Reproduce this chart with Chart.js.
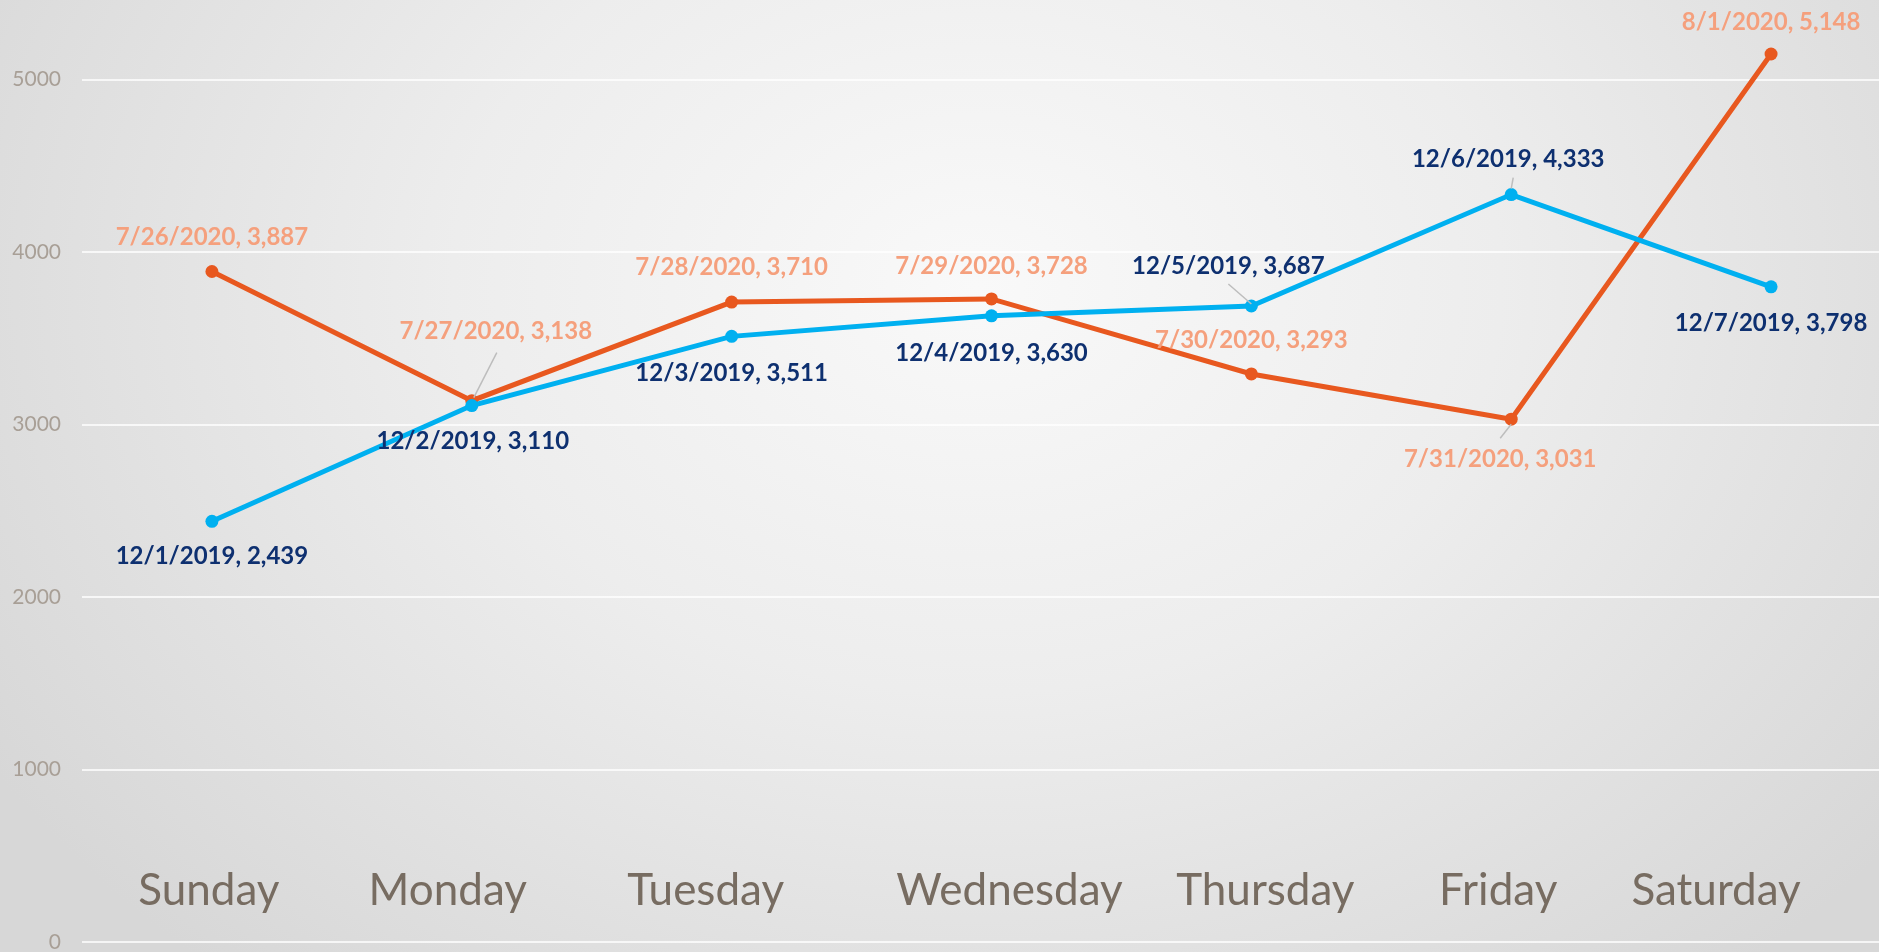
<!DOCTYPE html>
<html>
<head>
<meta charset="utf-8">
<script src="https://cdn.jsdelivr.net/npm/chart.js@4/dist/chart.umd.min.js"></script>
<style>
  html, body { margin: 0; padding: 0; width: 1879px; height: 952px; overflow: hidden; }
  body { background: radial-gradient(ellipse 62% 95% at 52% 30%, #f9f9f9 0%, #ededed 45%, #d7d7d7 100%); position: relative; }
  #c { position: absolute; left: 0; top: 0; }
</style>
</head>
<body>
<canvas id="c" width="1901" height="954"></canvas>
<script>
// ---- data ----
const categories = ['Sunday', 'Monday', 'Tuesday', 'Wednesday', 'Thursday', 'Friday', 'Saturday'];
const seriesBlueDates = ['12/1/2019', '12/2/2019', '12/3/2019', '12/4/2019', '12/5/2019', '12/6/2019', '12/7/2019'];
const seriesBlueValues = [2439, 3110, 3511, 3630, 3687, 4333, 3798];
const seriesOrangeDates = ['7/26/2020', '7/27/2020', '7/28/2020', '7/29/2020', '7/30/2020', '7/31/2020', '8/1/2020'];
const seriesOrangeValues = [3887, 3138, 3710, 3728, 3293, 3031, 5148];
const yTickValues = [0, 1000, 2000, 3000, 4000, 5000];

// ---- presentation ----
const BLUE = '#00B0F0', ORANGE = '#E8581F';
const BLUE_TEXT = '#0E3070', ORANGE_TEXT = '#F5A07D';
const xLabelShift = [-3, -24, -26, 18, 14, -13, -55];
const labelOffsets = [
  [[0, 35], [1, 36], [0, 37], [0, 37], [-23, -40], [-3, -35], [0, 36]],   // blue
  [[0, -34], [24, -69], [0, -35], [0, -33], [0, -34], [-11, 40], [0, -32]] // orange
];
const leaders = [
  {4: [0, -2, -23, -22], 5: [0, -6, 2, -17]},
  {1: [2, -3, 25, -48], 5: [0, 5, -11, 19]}
];
const labelColors = [BLUE_TEXT, ORANGE_TEXT];
const fmt = v => v.toLocaleString('en-US');

const dataLabelPlugin = {
  id: 'dataLabels',
  afterDatasetsDraw(chart) {
    const ctx = chart.ctx;
    const dateSets = [seriesBlueDates, seriesOrangeDates];
    chart.data.datasets.forEach((ds, di) => {
      const meta = chart.getDatasetMeta(di);
      meta.data.forEach((pt, i) => {
        const lead = leaders[di][i];
        if (lead) {
          ctx.save();
          ctx.strokeStyle = '#BDBDBD';
          ctx.lineWidth = 1.5;
          ctx.beginPath();
          ctx.moveTo(pt.x + lead[0], pt.y + lead[1]);
          ctx.lineTo(pt.x + lead[2], pt.y + lead[3]);
          ctx.stroke();
          ctx.restore();
        }
      });
    });
    chart.data.datasets.forEach((ds, di) => {
      const meta = chart.getDatasetMeta(di);
      meta.data.forEach((pt, i) => {
        const off = labelOffsets[di][i];
        ctx.save();
        ctx.font = 'bold 24px Lato';
        ctx.fillStyle = labelColors[di];
        ctx.textAlign = 'center';
        ctx.textBaseline = 'middle';
        ctx.fillText(dateSets[di][i] + ', ' + fmt(ds.data[i]), pt.x + off[0], pt.y + off[1]);
        ctx.restore();
      });
    });
  }
};

const shiftXLabels = {
  id: 'shiftXLabels',
  beforeDraw(chart) {
    const xs = chart.scales.x;
    const items = xs.getLabelItems(chart.chartArea);
    items.forEach((it, i) => {
      it.options.translation[0] = xs.getPixelForTick(i) + (xLabelShift[i] || 0);
    });
  }
};

new Chart(document.getElementById('c'), {
  type: 'line',
  data: {
    labels: categories,
    datasets: [
      {
        label: 'Dec 2019',
        data: seriesBlueValues,
        borderColor: BLUE,
        backgroundColor: BLUE,
        borderWidth: 5,
        pointRadius: 6.5,
        pointHoverRadius: 6.5,
        pointBorderWidth: 0,
        tension: 0
      },
      {
        label: 'Jul/Aug 2020',
        data: seriesOrangeValues,
        borderColor: ORANGE,
        backgroundColor: ORANGE,
        borderWidth: 5,
        pointRadius: 6.5,
        pointHoverRadius: 6.5,
        pointBorderWidth: 0,
        tension: 0
      }
    ]
  },
  options: {
    responsive: false,
    animation: false,
    layout: { padding: 0, autoPadding: false },
    plugins: {
      legend: { display: false },
      tooltip: { enabled: false }
    },
    scales: {
      x: {
        offset: true,
        grid: { display: false, drawTicks: false },
        border: { display: false },
        ticks: {
          color: '#776C61',
          font: { family: 'Lato', size: 44 },
          mirror: true,
          padding: 25,
          maxRotation: 0,
          autoSkip: false
        },
        afterFit: s => { s.height = 12; s.paddingLeft = 0; s.paddingRight = 0; }
      },
      y: {
        min: 0,
        max: 5461,
        grid: { color: 'rgba(255,255,255,0.75)', lineWidth: 2, drawTicks: false },
        border: { display: false },
        ticks: {
          stepSize: 1000,
          color: '#A89F96',
          font: { family: 'Lato', size: 21 },
          padding: 21,
          callback: v => String(v)
        },
        afterBuildTicks: s => { s.ticks = yTickValues.map(v => ({ value: v })); },
        afterFit: s => { s.width = 82; s.paddingTop = 0; s.paddingBottom = 0; }
      }
    }
  },
  plugins: [shiftXLabels, dataLabelPlugin]
});
</script>
</body>
</html>
